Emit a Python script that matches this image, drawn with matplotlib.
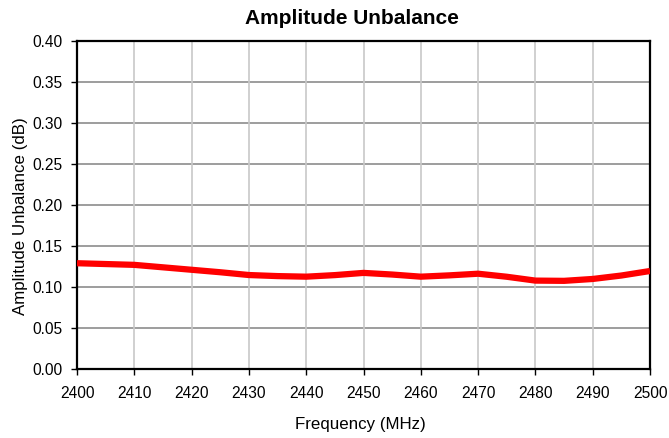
import matplotlib
matplotlib.use("Agg")
import matplotlib.pyplot as plt

plt.rcParams['font.family'] = ['Liberation Sans', 'DejaVu Sans']

# values (MHz, dB)
freq_mhz = [2400, 2405, 2410, 2415, 2420, 2425, 2430, 2435, 2440, 2445, 2450,
            2455, 2460, 2465, 2470, 2475, 2480, 2485, 2490, 2495, 2500]
unbalance_db = [0.129, 0.128, 0.127, 0.124, 0.121, 0.118, 0.1146, 0.1133, 0.1126, 0.1145, 0.1172,
                0.1152, 0.1126, 0.1142, 0.1162, 0.1125, 0.1078, 0.1075, 0.1098, 0.1140, 0.1195]

x_ticks = list(range(2400, 2501, 10))
y_ticks = [0.00, 0.05, 0.10, 0.15, 0.20, 0.25, 0.30, 0.35, 0.40]

W, H = 669, 438
fig = plt.figure(figsize=(W / 100, H / 100), dpi=100)
# plot area in pixels: left 77, right 650, top 41, bottom 369
ax = fig.add_axes([77 / W, (H - 369) / H, 573 / W, 328 / H])

# grid: darker horizontals, light verticals
for y in y_ticks[1:-1]:
    ax.axhline(y, color='#8c8c8c', lw=1.2, zorder=1)
for x in x_ticks[1:-1]:
    ax.axvline(x, color='#c8c8c8', lw=1.2, zorder=1)

ax.plot(freq_mhz, unbalance_db, color='#ff0000', lw=4.5, solid_capstyle='butt', zorder=3)

ax.set_xlim(2400, 2500)
ax.set_ylim(0, 0.40)
ax.set_xticks(x_ticks)
ax.set_yticks(y_ticks)
ax.set_yticklabels([f"{v:.2f}" for v in y_ticks])
ax.tick_params(axis='both', direction='out', length=4, width=1, labelsize=11.2)
ax.tick_params(axis='x', pad=8)
ax.tick_params(axis='y', pad=6.5)

for s in ax.spines.values():
    s.set_linewidth(1.6)
    s.set_color('black')

fig.text(352 / W, (H - 24) / H, "Amplitude Unbalance", fontsize=15, fontweight='bold',
         ha='center', va='baseline')
fig.text(360 / W, (H - 424) / H, "Frequency (MHz)", fontsize=12.2, ha='center', va='center')
fig.text(20.5 / W, (H - 216) / H, "Amplitude Unbalance (dB)", fontsize=12.2,
         ha='center', va='center', rotation=90)

fig.savefig("out.png", dpi=100)
